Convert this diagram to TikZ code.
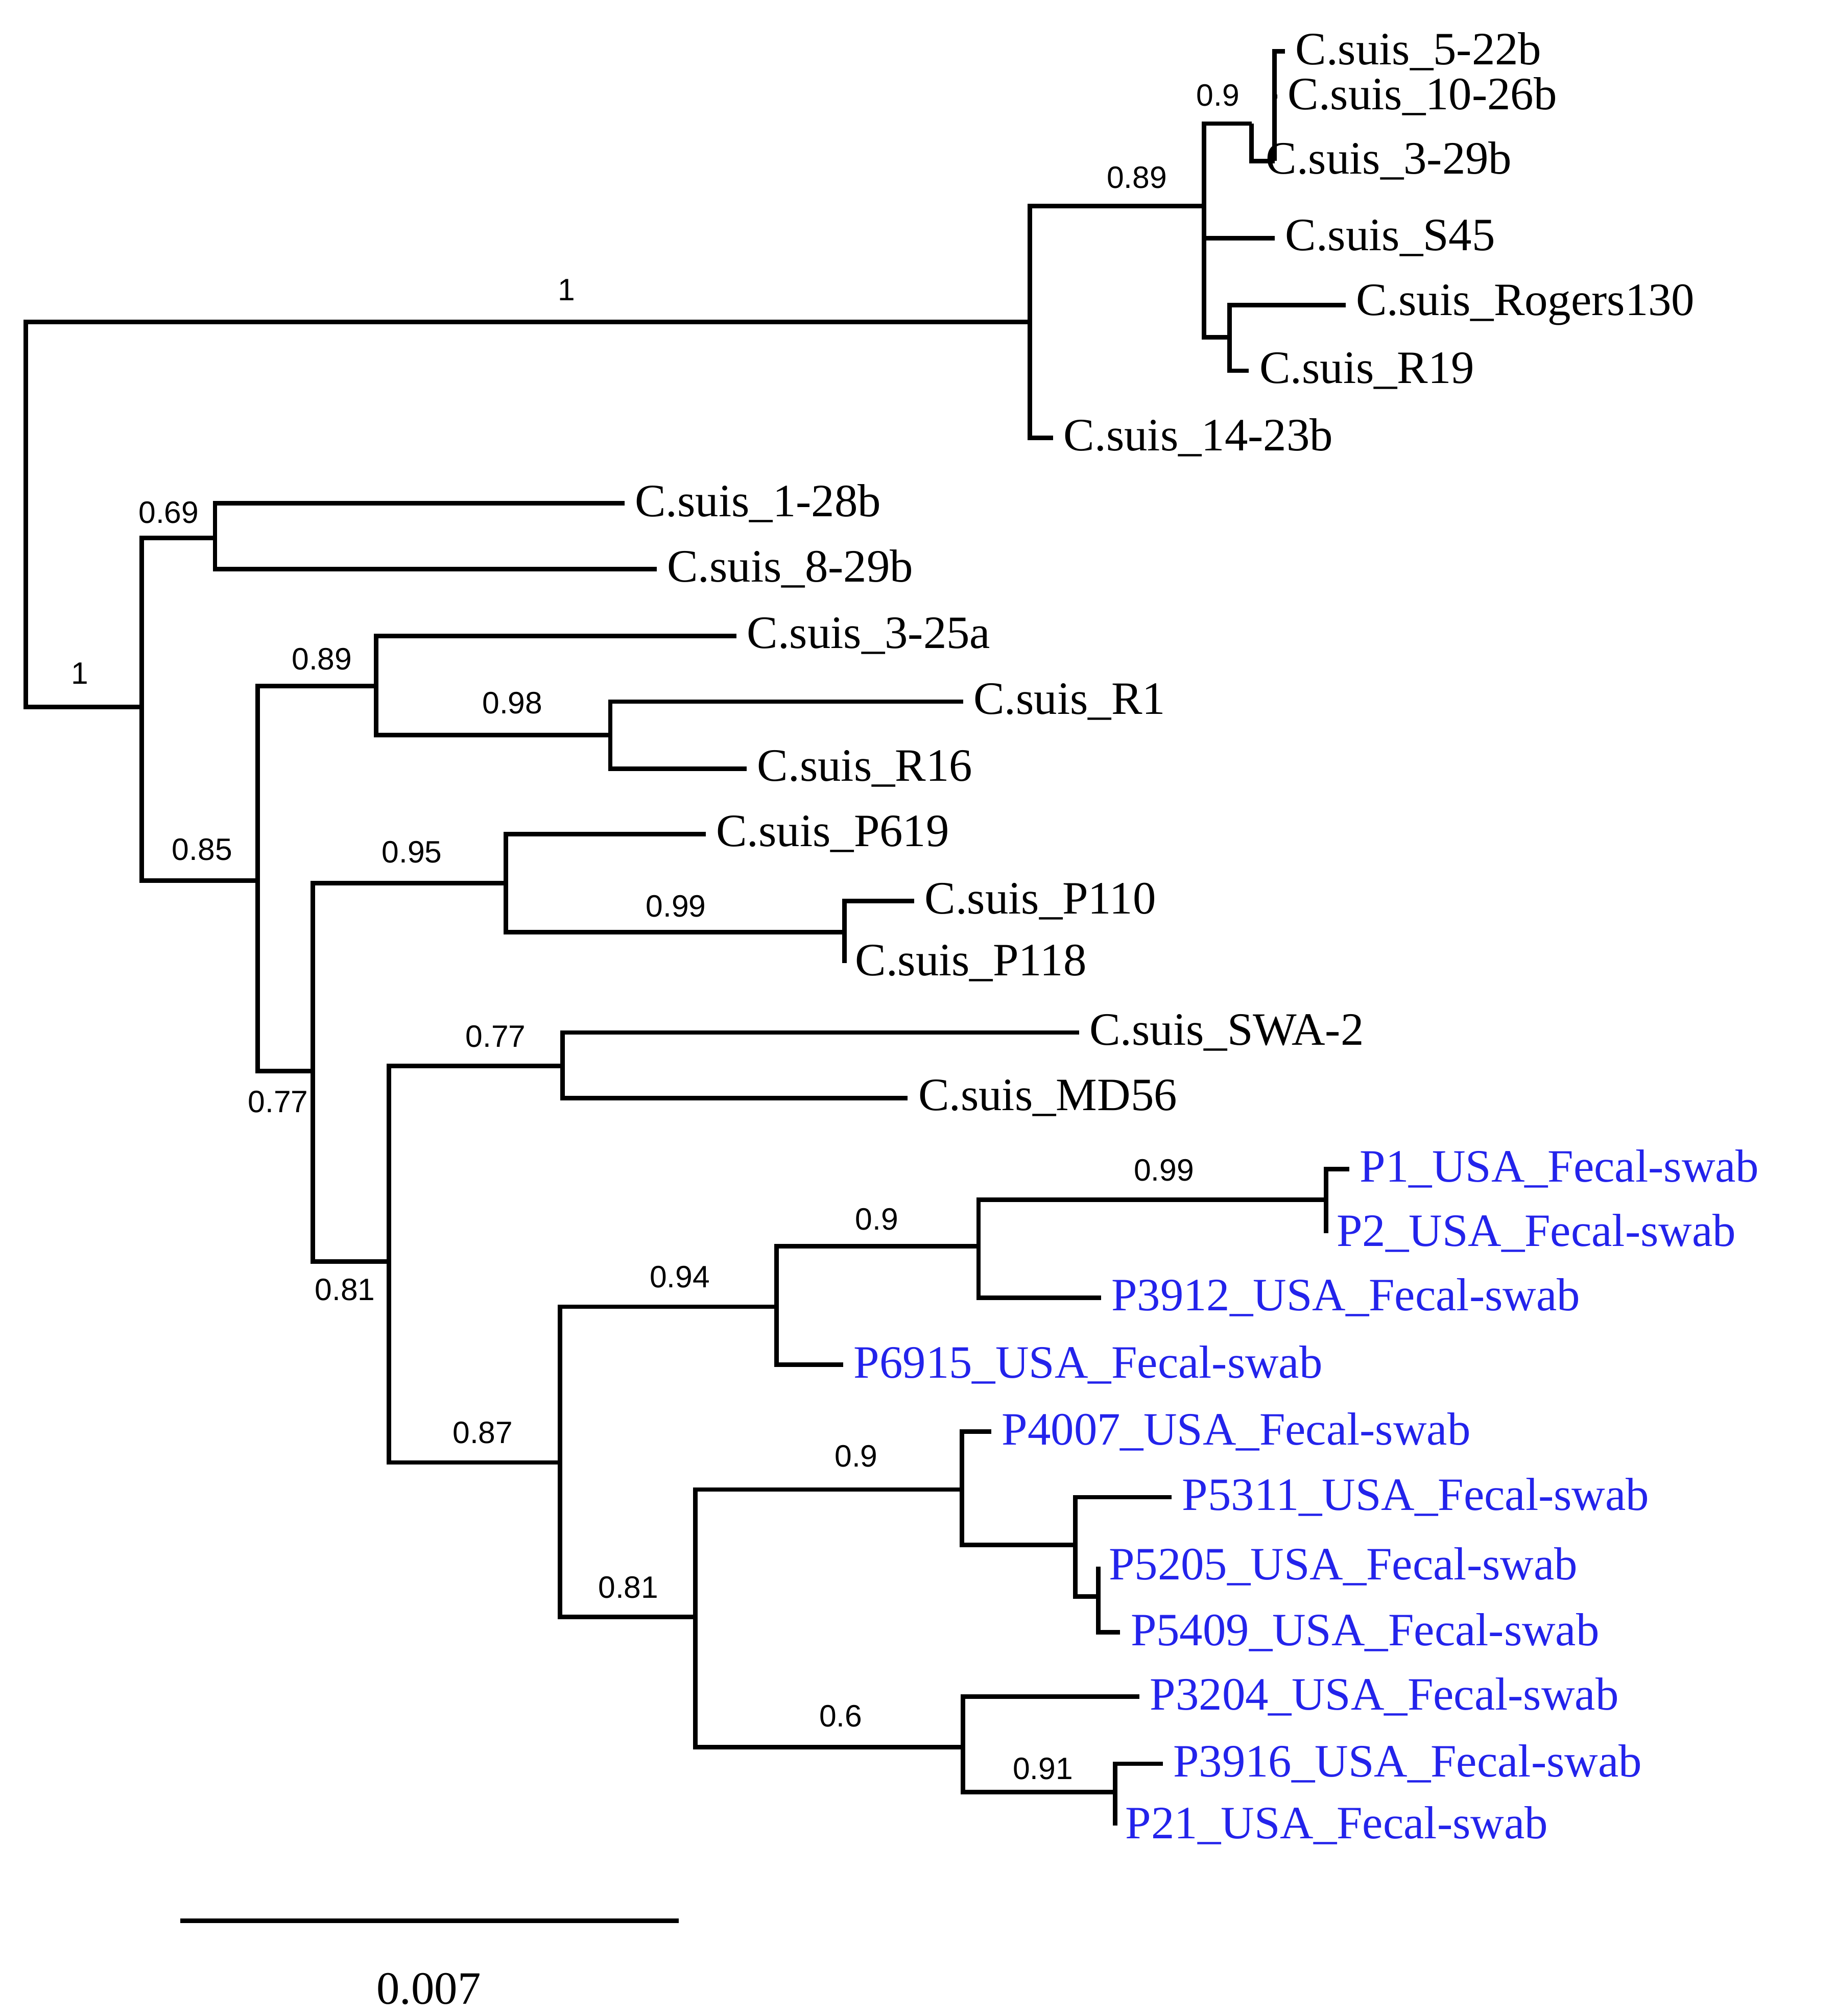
\documentclass[tikz,border=0pt]{standalone}
\usepackage{fontspec}
\setmainfont{Liberation Serif}
\newfontfamily\supfont{Liberation Sans}
\definecolor{tipblue}{RGB}{35,35,235}
\begin{document}
\begin{tikzpicture}[x=1pt,y=-1pt,
  br/.style={line width=3.5pt},
  leaf/.style={anchor=west,inner sep=0pt,xshift=8pt,font=\fontsize{36}{36}\selectfont},
  bleaf/.style={leaf,text=tipblue},
  sup/.style={font=\supfont\fontsize{24}{24}\selectfont,inner sep=0pt}]
\useasboundingbox (0,0) rectangle (1425,1566);
% internal nodes (x, entry y)
\coordinate (r) at (20,400);
\coordinate (a) at (800,250);
\coordinate (c) at (935,160);
\coordinate (b) at (972,96);
\coordinate (aa) at (990,125);
\coordinate (d) at (955,262);
\coordinate (e) at (110,549);
\coordinate (f) at (167,418);
\coordinate (g) at (200,684);
\coordinate (h) at (292,533);
\coordinate (i) at (474,571);
\coordinate (j) at (243,832);
\coordinate (k) at (393,686);
\coordinate (l) at (656,724);
\coordinate (m) at (302,980);
\coordinate (n) at (437,828);
\coordinate (o) at (435,1136);
\coordinate (p) at (603,1015);
\coordinate (q) at (760,968);
\coordinate (s) at (1030,932);
\coordinate (t) at (540,1256);
\coordinate (u) at (747,1157);
\coordinate (v) at (835,1200);
\coordinate (w) at (853,1240);
\coordinate (x) at (748,1357);
\coordinate (y) at (866,1392);
% tips
\coordinate (t1) at (998,40);
\coordinate (t2) at (992,75);
\coordinate (t3) at (975,125);
\coordinate (t4) at (990,185);
\coordinate (t5) at (1045,237);
\coordinate (t6) at (970,288);
\coordinate (t7) at (818,340);
\coordinate (t8) at (485,391);
\coordinate (t9) at (510,442);
\coordinate (t10) at (572,494);
\coordinate (t11) at (748,545);
\coordinate (t12) at (580,597);
\coordinate (t13) at (548,648);
\coordinate (t14) at (710,700);
\coordinate (t15) at (656,748);
\coordinate (t16) at (838,802);
\coordinate (t17) at (705,853);
\coordinate (t18) at (1048,908);
\coordinate (t19) at (1030,958);
\coordinate (t20) at (855,1008);
\coordinate (t21) at (655,1060);
\coordinate (t22) at (770,1112);
\coordinate (t23) at (910,1163);
\coordinate (t24) at (853,1217);
\coordinate (t25) at (870,1268);
\coordinate (t26) at (885,1318);
\coordinate (t27) at (903,1370);
\coordinate (t28) at (866,1418);
% labels
\node[leaf] (L1) at (t1) {C.suis\_5-22b};
\node[leaf] (L2) at (t2) {C.suis\_10-26b};
\node[leaf] (L3) at (t3) {C.suis\_3-29b};
\node[leaf] (L4) at (t4) {C.suis\_S45};
\node[leaf] (L5) at (t5) {C.suis\_Rogers130};
\node[leaf] (L6) at (t6) {C.suis\_R19};
\node[leaf] (L7) at (t7) {C.suis\_14-23b};
\node[leaf] (L8) at (t8) {C.suis\_1-28b};
\node[leaf] (L9) at (t9) {C.suis\_8-29b};
\node[leaf] (L10) at (t10) {C.suis\_3-25a};
\node[leaf] (L11) at (t11) {C.suis\_R1};
\node[leaf] (L12) at (t12) {C.suis\_R16};
\node[leaf] (L13) at (t13) {C.suis\_P619};
\node[leaf] (L14) at (t14) {C.suis\_P110};
\node[leaf] (L15) at (t15) {C.suis\_P118};
\node[leaf] (L16) at (t16) {C.suis\_SWA-2};
\node[leaf] (L17) at (t17) {C.suis\_MD56};
\node[bleaf] (L18) at (t18) {P1\_USA\_Fecal-swab};
\node[bleaf] (L19) at (t19) {P2\_USA\_Fecal-swab};
\node[bleaf] (L20) at (t20) {P3912\_USA\_Fecal-swab};
\node[bleaf] (L21) at (t21) {P6915\_USA\_Fecal-swab};
\node[bleaf] (L22) at (t22) {P4007\_USA\_Fecal-swab};
\node[bleaf] (L23) at (t23) {P5311\_USA\_Fecal-swab};
\node[bleaf] (L24) at (t24) {P5205\_USA\_Fecal-swab};
\node[bleaf] (L25) at (t25) {P5409\_USA\_Fecal-swab};
\node[bleaf] (L26) at (t26) {P3204\_USA\_Fecal-swab};
\node[bleaf] (L27) at (t27) {P3916\_USA\_Fecal-swab};
\node[bleaf] (L28) at (t28) {P21\_USA\_Fecal-swab};
% branches
\draw[br] (r) |- (a) (r) |- (e)
  (a) |- (c) (a) |- (t7)
  (c) |- (b) (c) |- (t4) (c) |- (d)
  (b) |- (aa) (b) |- (t3)
  (aa) |- (t1) (aa) |- (t2)
  (d) |- (t5) (d) |- (t6)
  (e) |- (f) (e) |- (g)
  (f) |- (t8) (f) |- (t9)
  (g) |- (h) (g) |- (j)
  (h) |- (t10) (h) |- (i)
  (i) |- (t11) (i) |- (t12)
  (j) |- (k) (j) |- (m)
  (k) |- (t13) (k) |- (l)
  (l) |- (t14) (l) |- (t15)
  (m) |- (n) (m) |- (o)
  (n) |- (t16) (n) |- (t17)
  (o) |- (p) (o) |- (t)
  (p) |- (q) (p) |- (t21)
  (q) |- (s) (q) |- (t20)
  (s) |- (t18) (s) |- (t19)
  (t) |- (u) (t) |- (x)
  (u) |- (t22) (u) |- (v)
  (v) |- (t23) (v) |- (w)
  (w) |- (t24) (w) |- (t25)
  (x) |- (t26) (x) |- (y)
  (y) |- (t27) (y) |- (t28);
% support values
\node[sup] (s1) at (440,225) {1};
\node[sup] (s2) at (883,138) {0.89};
\node[sup] (s3) at (946,74) {0.9};
\node[sup] (s4) at (62,523) {1};
\node[sup] (s5) at (131,398) {0.69};
\node[sup] (s6) at (157,660) {0.85};
\node[sup] (s7) at (250,512) {0.89};
\node[sup] (s8) at (398,546) {0.98};
\node[sup] (s9) at (320,662) {0.95};
\node[sup] (s10) at (525,704) {0.99};
\node[sup] (s11) at (216,856) {0.77};
\node[sup] (s12) at (385,805) {0.77};
\node[sup] (s13) at (268,1002) {0.81};
\node[sup] (s14) at (375,1113) {0.87};
\node[sup] (s15) at (528,992) {0.94};
\node[sup] (s16) at (681,947) {0.9};
\node[sup] (s17) at (904,909) {0.99};
\node[sup] (s18) at (488,1233) {0.81};
\node[sup] (s19) at (665,1131) {0.9};
\node[sup] (s20) at (653,1333) {0.6};
\node[sup] (s21) at (810,1374) {0.91};
% scale bar
\coordinate (sb1) at (140,1492);
\coordinate (sb2) at (527,1492);
\draw[br] (sb1) -- (sb2);
\node[font=\fontsize{36}{36}\selectfont] (sbl) at (333,1545) {0.007};
\end{tikzpicture}
\end{document}
